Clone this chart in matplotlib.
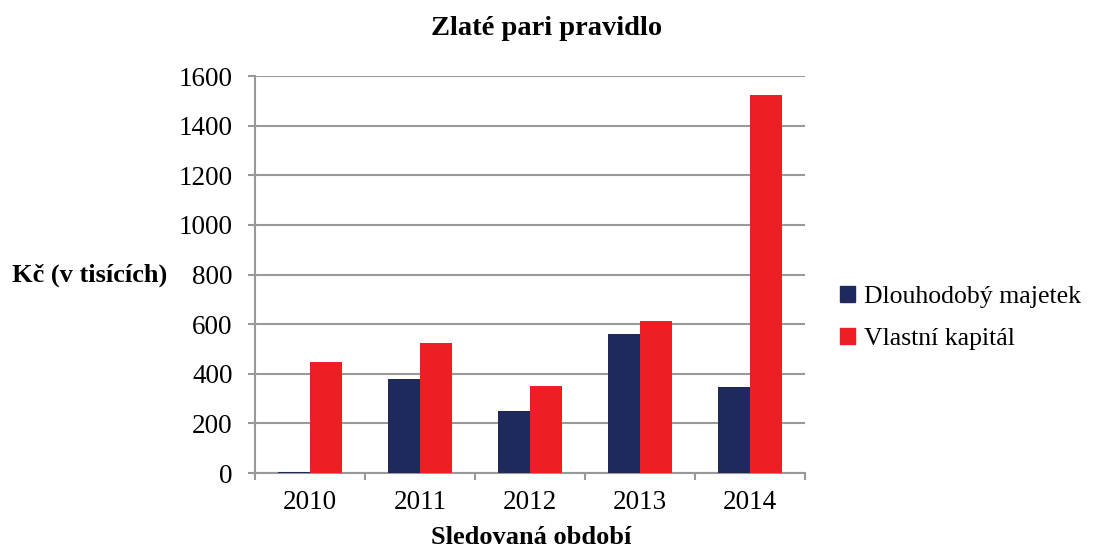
import numpy as np
import matplotlib.pyplot as plt
from matplotlib.patches import Patch

years = ["2010", "2011", "2012", "2013", "2014"]
dlouhodoby_majetek = [5, 377, 251, 562, 348]
vlastni_kapital = [449, 522, 352, 613, 1522]
series_names = ["Dlouhodobý majetek", "Vlastní kapitál"]
colors = ["#1F295C", "#EE1F24"]

plt.rcParams['font.family'] = ['Liberation Serif', 'DejaVu Serif']

fig = plt.figure(figsize=(10.93, 5.54), dpi=100)
ax = fig.add_axes([0.2333, 0.1462, 0.5032, 0.7166])

x = np.arange(len(years))
w = 0.287
ax.bar(x - w/2, dlouhodoby_majetek, w, color=colors[0], zorder=3)
ax.bar(x + w/2, vlastni_kapital, w, color=colors[1], zorder=3)

ax.set_xlim(-0.5, len(years) - 0.5)
ax.set_ylim(0, 1600)
ax.set_yticks(np.arange(0, 1601, 200))
ax.set_xticks(x)
ax.set_xticklabels(years)
ax.set_xticks(np.arange(-0.5, len(years)), minor=True)
ax.tick_params(axis='x', which='major', length=0, labelsize=19.5, pad=12)
ax.tick_params(axis='x', which='minor', length=5, width=1.5, color='#999999')
ax.tick_params(axis='y', length=5, width=1.5, color='#999999', labelsize=19.5, pad=11)
ax.grid(axis='y', color='#999999', linewidth=1.5, zorder=0)
for s in ['top', 'right']:
    ax.spines[s].set_visible(False)
for s in ['left', 'bottom']:
    ax.spines[s].set_color('#999999')
    ax.spines[s].set_linewidth(1.5)

fig.text(0.5, 0.948, "Zlaté pari pravidlo", ha='center', va='center',
         fontsize=20.5, fontweight='bold')
fig.text(0.011, 0.503, "Kč (v tisících)", ha='left', va='center',
         fontsize=19, fontweight='bold')
fig.text(0.486, 0.03, "Sledovaná období", ha='center', va='center',
         fontsize=19, fontweight='bold')

handles = [Patch(color=c) for c in colors]
fig.legend(handles, series_names, loc='center left', bbox_to_anchor=(0.752, 0.426),
           frameon=False, fontsize=18.5, handlelength=0.6, handleheight=0.6,
           handletextpad=0.35, labelspacing=0.75, borderpad=0.2)

fig.savefig("out.png", dpi=100)
